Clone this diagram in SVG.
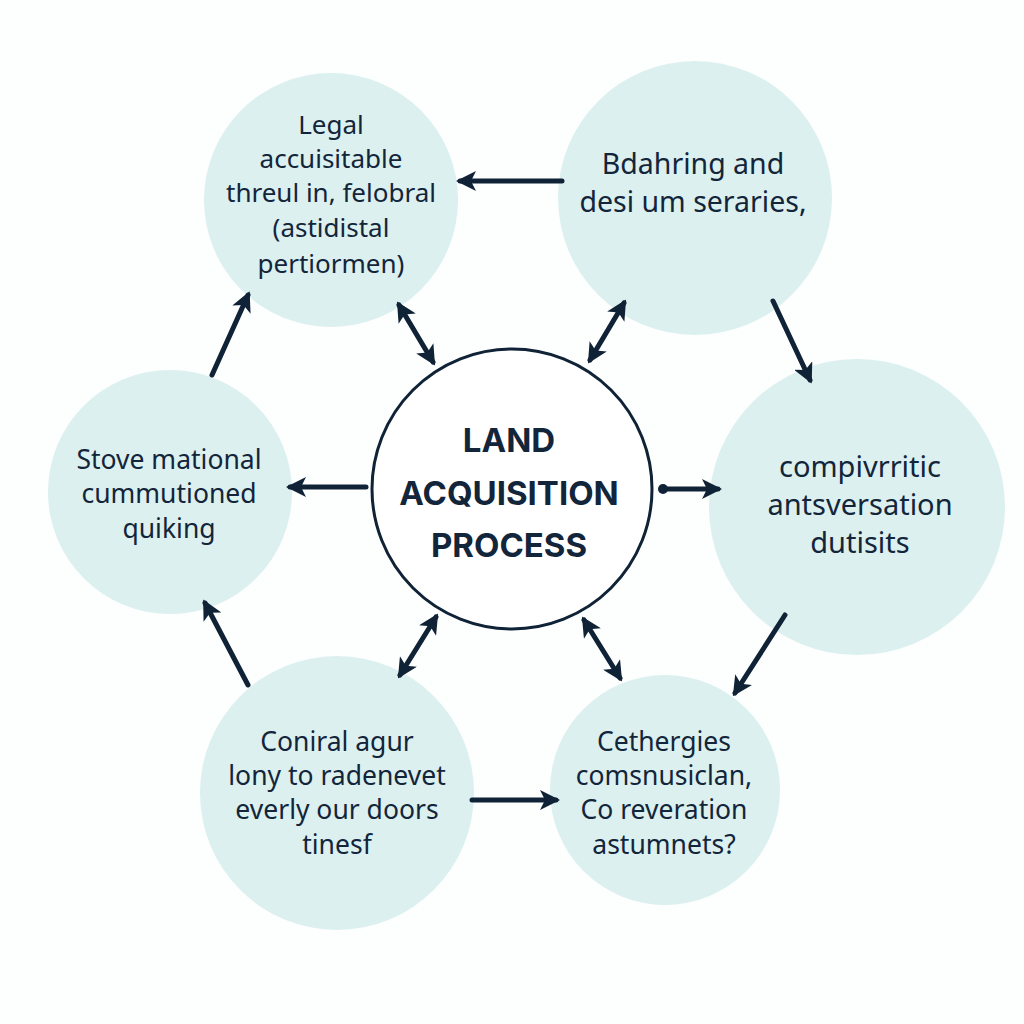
<svg xmlns="http://www.w3.org/2000/svg" width="1024" height="1024" viewBox="0 0 1024 1024">
<style>
.node{fill:#dbf0ef}
.lbl{font-family:"Noto Sans","Open Sans",sans-serif;font-size:26px;fill:#13253a;text-anchor:middle}
.ttl{font-family:"Inter","Open Sans",sans-serif;font-weight:700;font-size:33px;fill:#13253a;text-anchor:middle}
.con{stroke:#0f2236;stroke-width:5;fill:none;stroke-linecap:round}
</style>
<defs>
<marker id="ah" viewBox="0 0 10 10" refX="8" refY="5" markerWidth="20" markerHeight="20" markerUnits="userSpaceOnUse" orient="auto-start-reverse">
<path d="M0,0 L10,5 L0,10 L2.5,5 z" fill="#0f2236"/>
</marker>
</defs>
<rect width="1024" height="1024" fill="#fdfefe"/>
<g id="node-legal"><circle class="node" cx="331" cy="200" r="127"/>
<text class="lbl" x="331" y="134">Legal</text>
<text class="lbl" x="331" y="168">accuisitable</text>
<text class="lbl" x="331" y="202">threul in, felobral</text>
<text class="lbl" x="331" y="237">(astidistal</text>
<text class="lbl" x="331" y="273">pertiormen)</text></g>
<g id="node-bdahring"><circle class="node" cx="695" cy="198" r="137"/>
<text class="lbl" x="693" y="174" style="font-size:28.5px">Bdahring and</text>
<text class="lbl" x="693" y="212" style="font-size:28.5px">desi um seraries,</text></g>
<g id="node-stove"><circle class="node" cx="170" cy="492" r="122"/>
<text class="lbl" x="169" y="469" style="font-size:26.5px">Stove mational</text>
<text class="lbl" x="169" y="503" style="font-size:26.5px">cummutioned</text>
<text class="lbl" x="169" y="538" style="font-size:26.5px">quiking</text></g>
<g id="node-compiv"><circle class="node" cx="857" cy="507" r="148"/>
<text class="lbl" x="860" y="477" style="font-size:29px">compivrritic</text>
<text class="lbl" x="860" y="515" style="font-size:29px">antsversation</text>
<text class="lbl" x="860" y="553" style="font-size:29px">dutisits</text></g>
<g id="node-coniral"><circle class="node" cx="337" cy="793" r="137"/>
<text class="lbl" x="337" y="751" style="font-size:26.5px">Coniral agur</text>
<text class="lbl" x="337" y="785" style="font-size:26.5px">lony to radenevet</text>
<text class="lbl" x="337" y="819" style="font-size:26.5px">everly our doors</text>
<text class="lbl" x="337" y="854" style="font-size:26.5px">tinesf</text></g>
<g id="node-cethergies"><circle class="node" cx="665" cy="790" r="115"/>
<text class="lbl" x="664" y="751" style="font-size:26.5px">Cethergies</text>
<text class="lbl" x="664" y="785" style="font-size:26.5px">comsnusiclan,</text>
<text class="lbl" x="664" y="819" style="font-size:26.5px">Co reveration</text>
<text class="lbl" x="664" y="854" style="font-size:26.5px">astumnets?</text></g>
<g id="node-center"><circle cx="512" cy="489" r="140" fill="#ffffff" stroke="#0f2236" stroke-width="3"/>
<text class="ttl" x="509" y="452">LAND</text>
<text class="ttl" x="509" y="505">ACQUISITION</text>
<text class="ttl" x="509" y="557">PROCESS</text></g>
<g id="connectors">
<line class="con" x1="562" y1="181" x2="460" y2="181" marker-end="url(#ah)"/>
<line class="con" x1="773" y1="301" x2="810" y2="380" marker-end="url(#ah)"/>
<line class="con" x1="785" y1="615" x2="735" y2="693" marker-end="url(#ah)"/>
<line class="con" x1="472" y1="800" x2="556" y2="800" marker-end="url(#ah)"/>
<line class="con" x1="248" y1="685" x2="205" y2="603" marker-end="url(#ah)"/>
<line class="con" x1="212" y1="375" x2="248" y2="295" marker-end="url(#ah)"/>
<line class="con" x1="399" y1="305" x2="433" y2="362" marker-start="url(#ah)" marker-end="url(#ah)"/>
<line class="con" x1="624" y1="303" x2="590" y2="360" marker-start="url(#ah)" marker-end="url(#ah)"/>
<line class="con" x1="366" y1="487" x2="290" y2="487" marker-end="url(#ah)"/>
<line class="con" x1="662" y1="489" x2="718" y2="489" marker-end="url(#ah)"/>
<circle cx="663" cy="489" r="5" fill="#0f2236"/>
<line class="con" x1="436" y1="617" x2="400" y2="675" marker-start="url(#ah)" marker-end="url(#ah)"/>
<line class="con" x1="584" y1="620" x2="620" y2="678" marker-start="url(#ah)" marker-end="url(#ah)"/>
</g>
</svg>
